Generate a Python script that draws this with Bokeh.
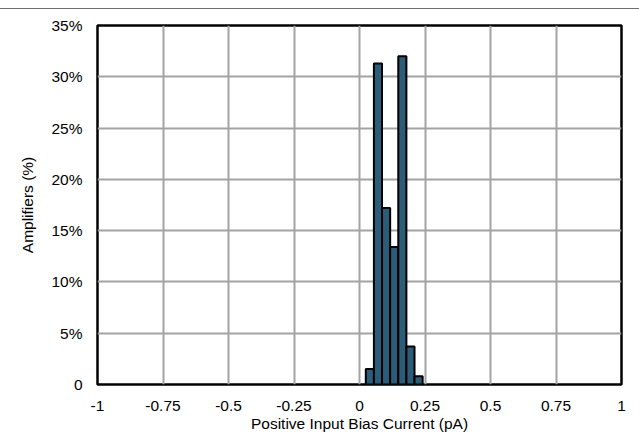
from bokeh.plotting import figure
from bokeh.models import FixedTicker, Div, ColumnDataSource
from bokeh.layouts import column
from bokeh.embed import file_html
from bokeh.resources import INLINE

# Histogram of positive input bias current across amplifiers
bin_edges = [0.024, 0.055, 0.086, 0.117, 0.148, 0.179, 0.210, 0.241]
percent = [1.5, 31.3, 17.2, 13.4, 32.0, 3.7, 0.8]

x_ticks = [-1, -0.75, -0.5, -0.25, 0, 0.25, 0.5, 0.75, 1]
x_tick_labels = ["-1", "-0.75", "-0.5", "-0.25", "0", "0.25", "0.5", "0.75", "1"]
y_ticks = [0, 5, 10, 15, 20, 25, 30, 35]
y_tick_labels = ["0", "5%", "10%", "15%", "20%", "25%", "30%", "35%"]

FONT = "Liberation Sans"

src = ColumnDataSource(dict(
    left=bin_edges[:-1],
    right=bin_edges[1:],
    top=percent,
    bottom=[0] * len(percent),
))

p = figure(
    width=639, height=430,
    x_range=(-1, 1), y_range=(0, 35),
    output_backend="svg", toolbar_location=None,
    min_border_left=97, min_border_right=18,
    min_border_top=16, min_border_bottom=55,
    background_fill_color="white", border_fill_color="white",
)

p.quad(left="left", right="right", top="top", bottom="bottom", source=src,
       fill_color="#2b5d78", line_color="black", line_width=2)

# frame and grid
p.outline_line_color = "black"
p.outline_line_width = 2.5
p.outline_line_alpha = 1.0
for g in (p.xgrid, p.ygrid):
    g.grid_line_color = "#a3a3a3"
    g.grid_line_width = 2

p.xaxis.ticker = FixedTicker(ticks=x_ticks)
p.yaxis.ticker = FixedTicker(ticks=y_ticks)
p.xaxis.major_label_overrides = {t: s for t, s in zip(x_ticks, x_tick_labels)}
p.yaxis.major_label_overrides = {t: s for t, s in zip(y_ticks, y_tick_labels)}
p.xaxis.major_label_standoff = 10
p.yaxis.major_label_standoff = 9

p.xaxis.axis_label = "Positive Input Bias Current (pA)"
p.yaxis.axis_label = "Amplifiers (%)"
p.xaxis.axis_label_standoff = 1
p.yaxis.axis_label_standoff = 12

for ax in (p.xaxis, p.yaxis):
    ax.axis_line_color = None
    ax.major_tick_line_color = None
    ax.minor_tick_line_color = None
    ax.major_label_text_font = FONT
    ax.major_label_text_font_size = "15.5px"
    ax.major_label_text_color = "black"
    ax.axis_label_text_font = FONT
    ax.axis_label_text_font_size = "15.5px"
    ax.axis_label_text_font_style = "normal"
    ax.axis_label_text_color = "black"

rule = Div(width=639, height=9, margin=0,
           styles={"border-bottom": "1px solid #707070", "box-sizing": "border-box"})

layout = column(rule, p, spacing=0)

open("out.html", "w").write(file_html(layout, INLINE))
